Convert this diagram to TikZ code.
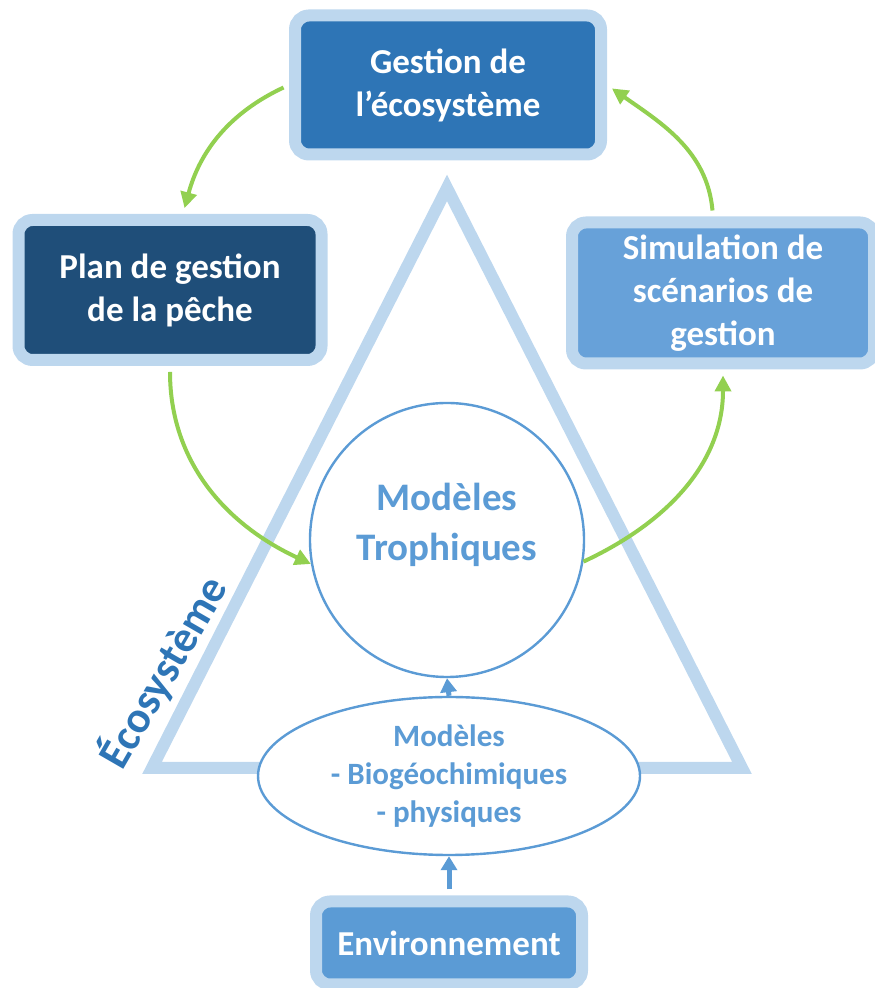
\documentclass[tikz,border=0pt]{standalone}
\usepackage{fontspec}
\setmainfont{Carlito}
\usetikzlibrary{arrows.meta,shapes.geometric}
\definecolor{pale}{HTML}{BDD7EE}
\definecolor{midblue}{HTML}{2E75B6}
\definecolor{navy}{HTML}{1F4E79}
\definecolor{sky}{HTML}{5B9BD5}
\definecolor{skylight}{HTML}{67A1D9}
\definecolor{leaf}{HTML}{92D050}
\tikzset{
 >={Triangle[length=8pt,width=8pt]},
 box/.style={rectangle,rounded corners=7pt,draw=pale,line width=6pt,text=white,
  align=center,inner sep=0pt,font=\bfseries\fontsize{17.5}{21.5}\selectfont},
 loopedge/.style={->,color=leaf,line width=2pt},
 upedge/.style={->,color=sky,line width=2.5pt,>={Triangle[length=7pt,width=8pt]}},
 tri/.style={draw=pale,line width=6pt,line join=miter}
}
\begin{document}
\begin{tikzpicture}[x=0.5pt,y=0.5pt]
\useasboundingbox (0,0) rectangle (874,988);
% the big triangle behind everything
\coordinate (apex) at (447,800);
\coordinate (bl) at (152,220);
\coordinate (br) at (742,220);
\draw[tri] (apex) -- (bl) -- (br) -- cycle;

\path (448,903) node[name=gestion,box,fill=midblue,minimum width=153pt,minimum height=69.5pt] {Gestion de\\l’écosystème};
\path (170,698) node[name=plan,box,fill=navy,minimum width=151.5pt,minimum height=70pt] {Plan de gestion\\de la pêche};
\path (723,695) node[name=simul,box,fill=skylight,minimum width=151pt,minimum height=70.5pt] {Simulation de\\scénarios de\\gestion};
\path (449,45) node[name=env,box,fill=sky,minimum width=133pt,minimum height=41.5pt] {Environnement};

\path (447,448) node[name=troph,circle,draw=sky,line width=1.2pt,fill=white,minimum size=137pt,inner sep=0pt,
  text depth=18.5pt,text=sky,align=center,font=\bfseries\fontsize{19.5}{25}\selectfont] {Modèles\\Trophiques};
\path (449,212) node[name=bio,ellipse,draw=sky,line width=1.2pt,fill=white,minimum width=191pt,minimum height=79pt,
  inner sep=0pt,text=sky,align=center,font=\bfseries\fontsize{15.5}{19}\selectfont] {Modèles\\- Biogéochimiques\\- physiques};

\path (163,316) node[name=ecolabel,rotate=60,text=midblue,font=\bfseries\fontsize{22}{26}\selectfont] {Écosystème};

% management loop
\path[loopedge,shorten <=3pt,shorten >=3pt] (gestion.west) edge[out=205,in=75] ([xshift=6.5pt]plan.north);
\path[loopedge,shorten <=3pt] (plan.south) edge[out=-90,in=155] (troph.190);
\path[loopedge,shorten >=3pt] (troph.-9) edge[out=25,in=-90] (simul.south);
\path[loopedge,shorten <=3pt,shorten >=3pt] ([xshift=-5pt]simul.north) edge[out=95,in=-35] (gestion.east);

% forcing from below
\path[upedge] (bio.north) edge (troph.south);
\path[upedge,shorten <=3pt] (env.north) edge (bio.south);
\end{tikzpicture}
\end{document}
